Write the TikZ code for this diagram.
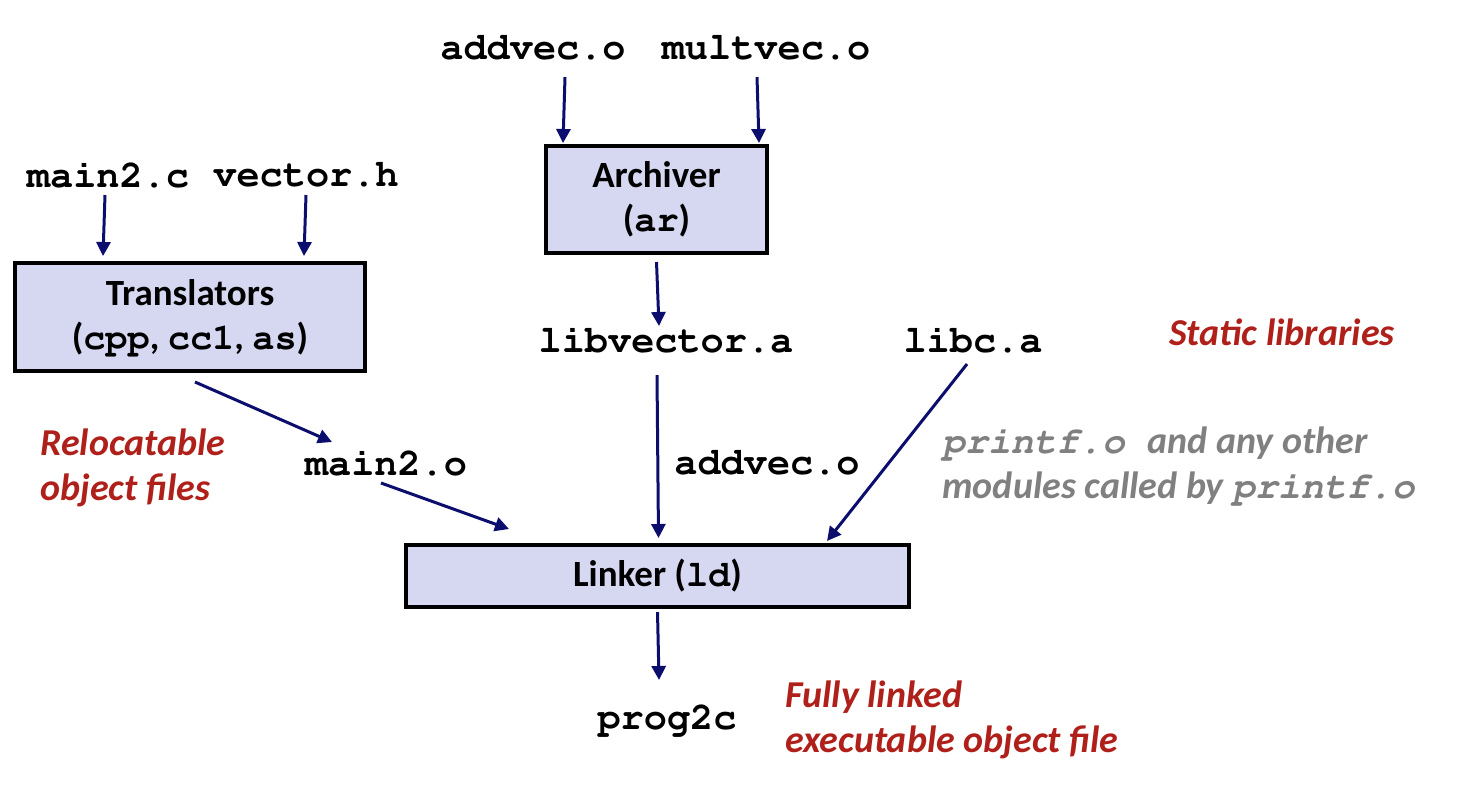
\documentclass[tikz,border=0pt]{standalone}
\usepackage[T1]{fontenc}
\usepackage{fontspec}
\setmainfont{Carlito}
\setmonofont{Liberation Mono}
\usepackage{tikz}
\usetikzlibrary{arrows.meta,calc,positioning}
\definecolor{boxfill}{RGB}{214,216,242}
\definecolor{arrowblue}{RGB}{12,14,110}
\definecolor{notered}{RGB}{176,32,26}
\definecolor{notegray}{RGB}{128,128,128}
\newcommand{\cour}[1]{{\fontencoding{T1}\fontfamily{pcr}\fontseries{b}\selectfont #1}}

\begin{document}
\begin{tikzpicture}[x=0.5pt, y=-0.5pt]
	\tikzstyle{tool} = [draw = black, line width = 2pt, fill = boxfill, align = center, font = \fontsize{18.5}{22}\selectfont\bfseries]
	\tikzstyle{file} = [inner sep = 2pt, font = \fontsize{19.3}{22}\selectfont\fontencoding{T1}\fontfamily{pcr}\fontseries{b}\selectfont]
	\tikzstyle{note} = [inner sep = 0pt, align = left, text = notered, font = \fontsize{19}{22.5}\selectfont\bfseries\itshape]
	\tikzstyle{arr} = [draw = arrowblue, line width = 1.5pt, -{Triangle[length = 7pt, width = 7pt]}]
\useasboundingbox (0, 0) rectangle (1460, 784);

\node[file] (addvec) at (533, 48) {addvec.o};
\node[file] (multvec) at (766, 48) {multvec.o};
\node[tool, minimum width = 110.5pt, minimum height = 53.5pt] (archiver) at (656.5, 199.5) {Archiver\\(\cour{ar})};
\node[file] (main2c) at (108, 175) {main2.c};
\node[file] (vectorh) at (306, 175) {vector.h};
\node[tool, minimum width = 175pt, minimum height = 54pt] (trans) at (190, 317) {Translators\\(\cour{cpp}, \cour{cc1}, \cour{as})};
\node[file] (libvector) at (666, 340) {libvector.a};
\node[file] (libc) at (973, 340) {libc.a};
\node[note, anchor = center] (static) at (1282, 332) {Static libraries};
\node[note, anchor = west] (reloc) at (40, 468) {Relocatable\\object files};
\node[file] (main2o) at (386, 463) {main2.o};
\node[file] (addvec2) at (767, 463) {addvec.o};
\node[note, anchor = west, text = notegray] (printf) at (942, 466) {{\fontshape{it}\cour{printf.o}}\hspace{0.6em}and any other\\modules called by {\fontshape{it}\cour{printf.o}}};
\node[tool, minimum width = 251.5pt, minimum height = 31pt] (linker) at (657.5, 576) {Linker (\cour{ld})};
\node[file] (prog2c) at (667, 720) {prog2c};
\node[note, anchor = west] (full) at (785, 720) {Fully linked\\executable object file};

	\path[arr] ($(addvec.center)+(32, 29)$) -- ($(archiver.north west)+(19, -1)$);
	\path[arr] ($(multvec.center)+(-9, 29)$) -- ($(archiver.north east)+(-10, -1)$);
	\path[arr] ($(main2c.center)+(-3, 20)$) -- ($(trans.north west)+(90, -5)$);
	\path[arr] ($(vectorh.center)+(0, 20)$) -- ($(trans.north west)+(291, -5)$);
	\path[arr] ($(archiver.south)+(0, 7)$) -- ($(libvector.center)+(-7, -14)$);
	\path[arr] ($(trans.south west)+(182, 9)$) -- ($(main2o.center)+(-54, -21)$);
	\path[arr] ($(main2o.center)+(-5, 20)$) -- ($(linker.north west)+(105, -14)$);
	\path[arr] ($(libvector.center)+(-9, 35)$) -- ($(linker.north)+(1, -5)$);
	\path[arr] ($(libc.center)+(-6, 24)$) -- ($(linker.north east)+(-84, -2)$);
	\path[arr] ($(linker.south)+(0, 3)$) -- ($(prog2c.center)+(-8, -40)$);
\end{tikzpicture}
\end{document}
